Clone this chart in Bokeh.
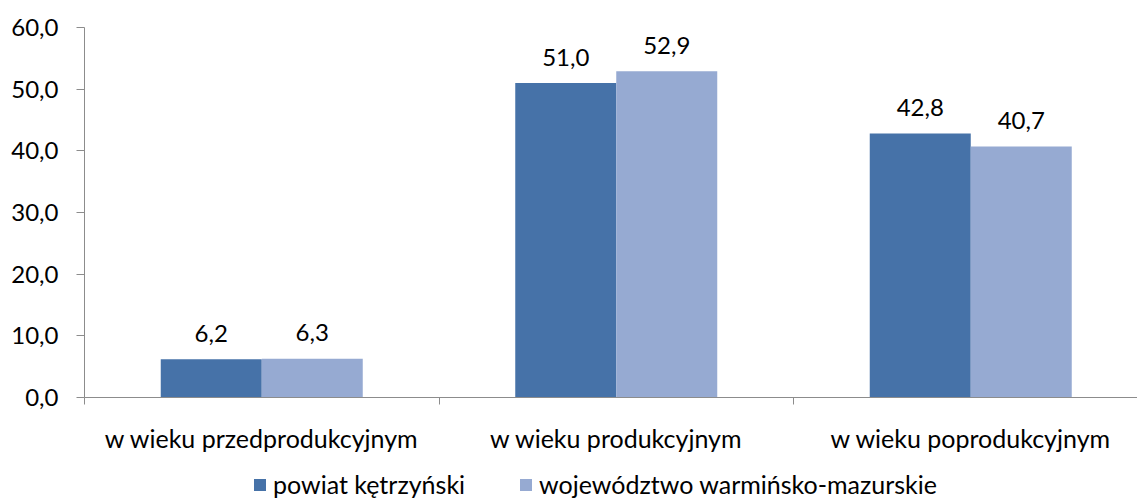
from bokeh.plotting import figure
from bokeh.layouts import column
from bokeh.models import Range1d, FixedTicker, Legend, LegendItem, ColumnDataSource
from bokeh.core.properties import value
from bokeh.embed import file_html
from bokeh.resources import INLINE

categories = ["w wieku przedprodukcyjnym", "w wieku produkcyjnym", "w wieku poprodukcyjnym"]
series_names = ["powiat kętrzyński", "województwo warmińsko-mazurskie"]
powiat = [6.2, 51.0, 42.8]
wojewodztwo = [6.3, 52.9, 40.7]
y_ticks = [0, 10, 20, 30, 40, 50, 60]
y_tick_labels = ["0,0", "10,0", "20,0", "30,0", "40,0", "50,0", "60,0"]
colors = ["#4672A8", "#96AAD2"]

FONT = "Lato"
FS_NUM = "24px"
FS_TXT = "25px"
AXIS_COLOR = "#8C8C8C"
W, H, H_LEG = 1137, 455, 44
LEFT, TOP, BOTTOM = 84, 27, 58
PX_PER_CAT = 354.5
BAR_W = 101 / PX_PER_CAT

p = figure(width=W, height=H, output_backend="svg", toolbar_location=None,
           x_range=Range1d(0, (W - LEFT) / PX_PER_CAT), y_range=Range1d(0, 60),
           min_border_left=LEFT, min_border_right=0, min_border_top=TOP,
           min_border_bottom=BOTTOM)
p.outline_line_color = None
p.grid.visible = False
p.background_fill_color = "white"
p.border_fill_color = "white"

# legend strip (its own small figure below the chart)
pl = figure(width=W, height=H_LEG, output_backend="svg", toolbar_location=None,
            x_axis_location=None, y_axis_location=None,
            x_range=Range1d(100, 101), y_range=Range1d(100, 101),
            min_border_left=0, min_border_right=0, min_border_top=0, min_border_bottom=0)
pl.outline_line_color = None
pl.grid.visible = False
pl.border_fill_color = "white"
pl.background_fill_color = "white"

leg_renderers = []
for k, (vals, col) in enumerate(zip([powiat, wojewodztwo], colors)):
    shift = (k - 0.5) * BAR_W
    xs = [i + 0.5 + shift for i in range(len(categories))]
    src = ColumnDataSource(dict(x=xs, top=vals,
                                lbl=[f"{v:.1f}".replace(".", ",") for v in vals]))
    p.vbar(x="x", top="top", width=BAR_W, source=src, fill_color=col, line_color=None)
    p.text(x="x", y="top", text="lbl", source=src, text_align="center",
           text_baseline="middle", y_offset=-26, text_font=value(FONT),
           text_font_size=FS_NUM, text_color="#000000")
    # same series in the legend strip, hidden, only to supply the legend swatch
    leg_renderers.append(pl.vbar(x="x", top="top", width=BAR_W, source=src,
                                 fill_color=col, line_color=None, visible=False))

# x axis
p.xaxis.ticker = FixedTicker(ticks=[i + 0.5 for i in range(len(categories))],
                             minor_ticks=list(range(len(categories) + 1)))
p.xaxis.major_label_overrides = {i + 0.5: c for i, c in enumerate(categories)}
p.xaxis.major_tick_out = 0
p.xaxis.major_tick_in = 0
p.xaxis.minor_tick_out = 7
p.xaxis.minor_tick_in = 0
p.xaxis.minor_tick_line_color = AXIS_COLOR
p.xaxis.major_label_standoff = 18
p.xaxis.major_label_text_font_size = FS_TXT

# y axis
p.yaxis.ticker = FixedTicker(ticks=y_ticks, minor_ticks=[])
p.yaxis.major_label_overrides = {t: l for t, l in zip(y_ticks, y_tick_labels)}
p.yaxis.major_tick_out = 8
p.yaxis.major_tick_in = 0
p.yaxis.minor_tick_line_color = None
p.yaxis.major_label_standoff = 18
p.yaxis.major_label_text_font_size = FS_NUM

for ax in (p.xaxis[0], p.yaxis[0]):
    ax.axis_line_color = AXIS_COLOR
    ax.major_tick_line_color = AXIS_COLOR
    ax.major_label_text_font = FONT
    ax.major_label_text_color = "#000000"

legend = Legend(items=[LegendItem(label=n, renderers=[r]) for n, r in zip(series_names, leg_renderers)],
                orientation="horizontal", location=(168, 0),
                glyph_width=15, glyph_height=15, label_standoff=6, spacing=53,
                padding=0, margin=0, border_line_color=None, background_fill_alpha=0,
                inactive_fill_alpha=0,
                label_text_font=FONT, label_text_font_size=FS_TXT, label_text_color="#000000")
pl.add_layout(legend, "center")

layout = column(p, pl, spacing=0)
open("out.html", "w").write(file_html(layout, INLINE))
